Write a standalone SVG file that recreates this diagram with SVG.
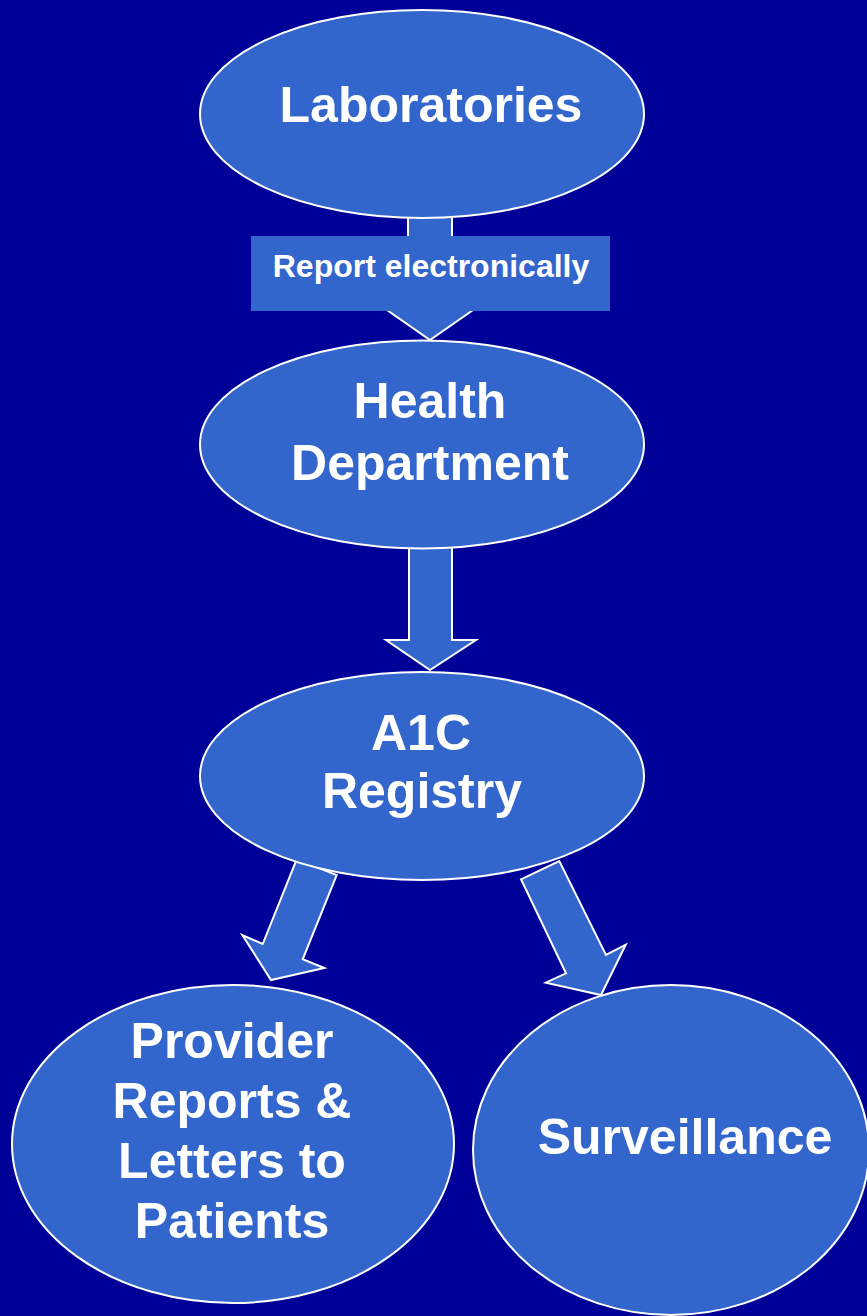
<svg xmlns="http://www.w3.org/2000/svg" width="867" height="1316" viewBox="0 0 867 1316">
<style>
.node{fill:#3366CC;stroke:#FFFFFF;stroke-width:2}
.arrow{fill:#3366CC;stroke:#FFFFFF;stroke-width:2;stroke-linejoin:miter}
.t{fill:#FFFFFF;font-family:"Liberation Sans",Arial,sans-serif;font-weight:bold;font-size:50px;text-anchor:middle}
.lbl{fill:#FFFFFF;font-family:"Liberation Sans",Arial,sans-serif;font-weight:bold;font-size:32px;text-anchor:middle}
</style>
<rect x="0" y="0" width="867" height="1316" fill="#000099"/>
<g id="connectors">
<polygon class="arrow" points="408,216 452,216 452,310 473,310 430,340 387,310 408,310"/>
<g id="label-report">
<rect x="251" y="236" width="359" height="75" fill="#3366CC"/>
<text class="lbl" x="431" y="277">Report electronically</text>
</g>
<polygon class="arrow" points="409,547 452,547 452,640 476,640 430,670 386,640 409,640"/>
<polygon class="arrow" points="296.7,859.3 336.7,875 302.7,959.3 324.3,968 271,980 242.3,935 262.7,944"/>
<polygon class="arrow" points="521,879.3 559.3,861 606,955 625.7,944.7 601,995 545.7,982.7 566,973.3"/>
</g>
<g id="laboratories">
<ellipse class="node" cx="422" cy="114" rx="222" ry="104"/>
<text class="t" x="431" y="122">Laboratories</text>
</g>
<g id="health-department">
<ellipse class="node" cx="422" cy="444.5" rx="222" ry="104"/>
<text class="t" x="430" y="418">Health</text>
<text class="t" x="430" y="480">Department</text>
</g>
<g id="a1c-registry">
<ellipse class="node" cx="422" cy="776" rx="222" ry="104"/>
<text class="t" x="421" y="750">A1C</text>
<text class="t" x="422" y="808">Registry</text>
</g>
<g id="provider-reports">
<ellipse class="node" cx="233" cy="1144" rx="221" ry="159"/>
<text class="t" x="232" y="1058">Provider</text>
<text class="t" x="232" y="1118">Reports &amp;</text>
<text class="t" x="232" y="1178">Letters to</text>
<text class="t" x="232" y="1238">Patients</text>
</g>
<g id="surveillance">
<ellipse class="node" cx="671" cy="1150" rx="198" ry="165"/>
<text class="t" x="685" y="1154">Surveillance</text>
</g>
</svg>
